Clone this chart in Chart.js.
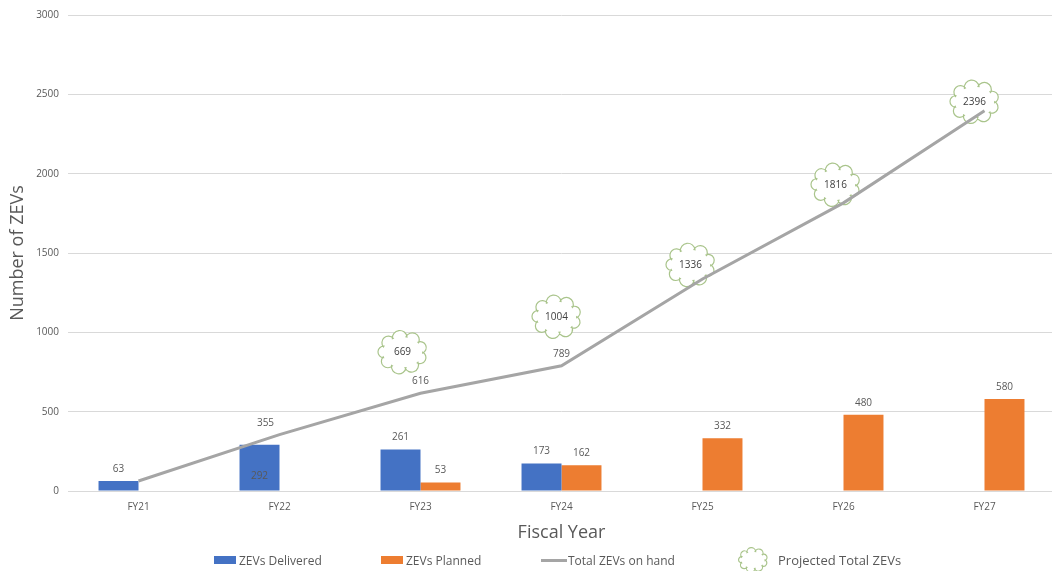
<!DOCTYPE html>
<html>
<head>
<meta charset="utf-8">
<script src="https://cdn.jsdelivr.net/npm/chart.js@4"></script>
<style>
  html, body { margin: 0; padding: 0; background: #fff; overflow: hidden; }
  #wrap { position: relative; width: 1060px; height: 571px; }
  #legend {
    position: absolute; left: 0; top: 549px; width: 1060px; height: 22px;
    font-family: "Open Sans", sans-serif; font-size: 12px; color: #595959;
  }
  .item { position: absolute; top: 0; height: 22px; display: flex; align-items: center; white-space: nowrap; }
  .swatch { width: 22px; height: 8px; margin-right: 3px; }
  .dash { width: 26px; height: 3px; background: #a5a5a5; margin-right: 1px; }
  #cloudKey { margin-right: 6px; }
  .big { font-size: 13px; }
</style>
</head>
<body>
<div id="wrap">
  <canvas id="chart" width="1060" height="571"></canvas>
  <div id="legend">
    <div class="item" style="left:214px"><span class="swatch" style="background:#4472c4"></span>ZEVs Delivered</div>
    <div class="item" style="left:381px"><span class="swatch" style="background:#ed7d31"></span>ZEVs Planned</div>
    <div class="item" style="left:541px"><span class="dash"></span>Total ZEVs on hand</div>
    <div class="item big" style="left:734px"><canvas id="cloudKey" width="38" height="30"></canvas>Projected Total ZEVs</div>
  </div>
</div>
<script>
const years = ["FY21", "FY22", "FY23", "FY24", "FY25", "FY26", "FY27"];
const delivered = [63, 292, 261, 173, null, null, null];
const planned = [null, null, 53, 162, 332, 480, 580];
const totalOnHand = [63, 355, 616, 789, 1336, 1816, 2396];
const projected = [null, null, 669, 1004, 1336, 1816, 2396];
const yTicks = [0, 500, 1000, 1500, 2000, 2500, 3000];

// where each cloud sits relative to its point on the line (px)
const cloudShift = [null, null, [-18, -41], [-5, -49], [-12, -14], [-8, -18], [-10, -9]];

const grey = "#595959";

// scalloped outline: semicircles strung round an ellipse
function cloudPath(ctx, cx, cy, w, h) {
  const n = 9;
  const rx = w / 2 - 6, ry = h / 2 - 6;
  const pts = [];
  for (let i = 0; i < n; i++) {
    const a = (i / n) * Math.PI * 2 - Math.PI / 2 + 0.2;
    pts.push([cx + rx * Math.cos(a), cy + ry * Math.sin(a)]);
  }
  ctx.beginPath();
  for (let i = 0; i < n; i++) {
    const p0 = pts[i], p1 = pts[(i + 1) % n];
    const mx = (p0[0] + p1[0]) / 2, my = (p0[1] + p1[1]) / 2;
    const r = Math.hypot(p1[0] - p0[0], p1[1] - p0[1]) / 2;
    const s = Math.atan2(p0[1] - my, p0[0] - mx);
    ctx.arc(mx, my, r * 1.08, s, s + Math.PI, false);
  }
  ctx.closePath();
}

function drawCloud(ctx, cx, cy, w, h) {
  ctx.save();
  cloudPath(ctx, cx, cy, w, h);
  ctx.fillStyle = "#fff";
  ctx.fill();
  ctx.strokeStyle = "#a9c48b";
  ctx.lineWidth = 1.2;
  ctx.stroke();
  ctx.restore();
}

const labelPlugin = {
  id: "labels",
  beforeDatasetsDraw(chart) {
    const ctx = chart.ctx;
    const line = chart.getDatasetMeta(2).data;
    ctx.save();
    ctx.font = "10px 'Open Sans'";
    ctx.textAlign = "center";
    ctx.textBaseline = "middle";
    projected.forEach((v, i) => {
      if (v == null) return;
      const p = line[i];
      const x = p.x + cloudShift[i][0], y = p.y + cloudShift[i][1];
      drawCloud(ctx, x, y, 52, 43);
      ctx.fillStyle = "#404040";
      ctx.fillText(v, x, y);
    });
    ctx.restore();
  },
  afterDatasetsDraw(chart) {
    const ctx = chart.ctx;
    ctx.save();
    ctx.font = "10px 'Open Sans'";
    ctx.fillStyle = grey;
    ctx.textAlign = "center";
    ctx.textBaseline = "middle";
    [0, 1].forEach((d) => {
      chart.getDatasetMeta(d).data.forEach((bar, i) => {
        const v = chart.data.datasets[d].data[i];
        if (v == null) return;
        // FY22 delivered label sits inside its bar, near the base
        const y = (d === 0 && i === 1) ? bar.base - 14 : bar.y - 12;
        ctx.fillText(v, bar.x, y);
      });
    });
    const line = chart.getDatasetMeta(2).data;
    totalOnHand.forEach((v, i) => {
      if (v === projected[i] || v === delivered[i]) return;
      const dx = i === 1 ? -14 : 0;
      ctx.fillText(v, line[i].x + dx, line[i].y - 12);
    });
    ctx.restore();
  },
};

new Chart("chart", {
  type: "bar",
  data: {
    labels: years,
    datasets: [
      {
        label: "ZEVs Delivered",
        data: delivered,
        backgroundColor: "#4472c4",
        order: 1,
      },
      {
        label: "ZEVs Planned",
        data: planned,
        backgroundColor: "#ed7d31",
        order: 1,
      },
      {
        type: "line",
        label: "Total ZEVs on hand",
        data: totalOnHand,
        borderColor: "#a5a5a5",
        borderWidth: 3,
        pointRadius: 0,
        tension: 0,
        order: 0,
      },
    ],
  },
  options: {
    responsive: false,
    animation: false,
    devicePixelRatio: 1,
    categoryPercentage: 0.567,
    barPercentage: 1,
    layout: { padding: { top: 15, right: 5, bottom: 27, left: 0 } },
    plugins: {
      legend: { display: false },
      tooltip: { enabled: false },
    },
    scales: {
      x: {
        afterFit(scale) {
          scale.height = 53;
        },
        grid: { display: false, drawTicks: false },
        border: { display: false },
        ticks: { color: grey, font: { family: "Open Sans", size: 10 }, padding: 10 },
        title: {
          display: true,
          text: "Fiscal Year",
          color: grey,
          font: { family: "Open Sans", size: 18 },
          padding: { top: 9, bottom: 0 },
        },
      },
      y: {
        min: 0,
        max: 3000,
        afterBuildTicks(scale) {
          scale.ticks = yTicks.map((v) => ({ value: v }));
        },
        afterFit(scale) {
          scale.width = 68;
        },
        grid: { color: "#d9d9d9", drawTicks: false },
        border: { display: false },
        ticks: {
          color: grey,
          font: { family: "Open Sans", size: 10 },
          padding: 9,
          callback: (v) => String(v),
        },
        title: {
          display: true,
          text: "Number of ZEVs",
          color: grey,
          font: { family: "Open Sans", size: 18 },
          padding: { top: 7, bottom: 0 },
        },
      },
    },
  },
  plugins: [labelPlugin],
});

// legend cloud icon
const k = document.getElementById("cloudKey").getContext("2d");
drawCloud(k, 19, 15, 36, 29);
</script>
</body>
</html>
